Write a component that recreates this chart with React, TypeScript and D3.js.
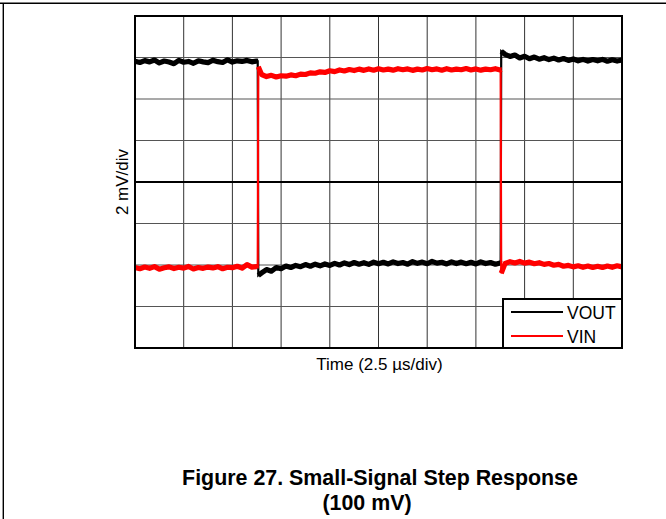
import React from "react";
import * as d3 from "d3";

// Sample times (µs), shared by both traces
const timeUs = [
  0, 0.25, 0.5, 0.75, 1, 1.25, 1.5, 1.75, 2, 2.25, 2.5, 2.75, 3, 3.25, 3.5, 3.75, 4, 4.25, 4.5, 4.75, 5, 5.25, 5.5, 5.75, 6, 6.25,
  6.3, 6.33,
  6.5, 6.75, 7, 7.25, 7.5, 7.75, 8, 8.25, 8.5, 8.75, 9, 9.25, 9.5, 9.75, 10, 10.25, 10.5, 10.75, 11, 11.25, 11.5, 11.75,
  12, 12.25, 12.5, 12.75, 13, 13.25, 13.5, 13.75, 14, 14.25, 14.5, 14.75, 15, 15.25, 15.5, 15.75, 16, 16.25, 16.5, 16.75,
  17, 17.25, 17.5, 17.75, 18, 18.25, 18.5, 18.75,
  18.77, 18.8,
  19, 19.25, 19.5, 19.75, 20, 20.25, 20.5, 20.75, 21, 21.25, 21.5, 21.75, 22, 22.25, 22.5, 22.75, 23, 23.25, 23.5, 23.75,
  24, 24.25, 24.5, 24.75, 25,
];

// VOUT trace (mV, scope offset)
const voutMv = [
  5.82, 5.76, 5.85, 5.79, 5.88, 5.74, 5.83, 5.78, 5.7, 5.86, 5.77, 5.81, 5.72, 5.84, 5.79, 5.75, 5.87, 5.8, 5.76, 5.89, 5.78, 5.84, 5.81, 5.86, 5.79, 5.83,
  5.82, -4.5,
  -4.38, -4.22, -4.3, -4.12, -4.18, -4.05, -4.12, -4.02, -4.08, -3.98, -4.06, -3.96, -4.04, -3.95, -4.02, -3.92, -4.0, -3.9, -3.98, -3.88,
  -3.96, -3.89, -3.97, -3.86, -3.94, -3.87, -3.95, -3.85, -3.93, -3.88, -3.96, -3.84, -3.92, -3.86, -3.94, -3.83, -3.91, -3.87, -3.95, -3.85,
  -3.93, -3.86, -3.94, -3.87, -3.95, -3.85, -3.93, -3.88, -3.96, -3.9,
  -3.92, 6.3,
  6.15, 6.05, 6.12, 5.98, 6.06, 5.94, 6.02, 5.92, 5.99, 5.9, 5.97, 5.88, 5.95, 5.86, 5.93, 5.84, 5.91, 5.83, 5.9, 5.84,
  5.91, 5.82, 5.89, 5.83, 5.88,
];

// VIN trace (mV, scope offset)
const vinMv = [
  -4.12, -4.18, -4.1, -4.16, -4.08, -4.2, -4.13, -4.09, -4.17, -4.11, -4.15, -4.07, -4.19, -4.12, -4.16, -4.1, -4.14, -4.08, -4.18, -4.11, -4.13, -4.06, -4.15, -3.98, -4.1, -4.08,
  -4.1, 5.55,
  5.18, 5.08, 5.14, 5.06, 5.12, 5.1, 5.16, 5.12, 5.2, 5.18, 5.26, 5.24, 5.31, 5.28, 5.36, 5.32, 5.4, 5.35, 5.42, 5.37,
  5.44, 5.38, 5.45, 5.39, 5.46, 5.4, 5.44, 5.39, 5.46, 5.41, 5.45, 5.38, 5.44, 5.4, 5.47, 5.41, 5.45, 5.39, 5.46, 5.4,
  5.44, 5.41, 5.47, 5.4, 5.45, 5.39, 5.44, 5.41, 5.46, 5.4,
  5.42, -4.4,
  -3.92, -3.84, -3.9, -3.83, -3.91, -3.86, -3.94, -3.89, -3.97, -3.93, -4.01, -3.97, -4.06, -4.02, -4.09, -4.04, -4.11, -4.05, -4.12, -4.06,
  -4.12, -4.05, -4.11, -4.04, -4.09,
];

// Scope divisions
const timeDivs = [0, 2.5, 5, 7.5, 10, 12.5, 15, 17.5, 20, 22.5, 25];
const mvDivs = [-8, -6, -4, -2, 0, 2, 4, 6, 8];

const seriesNames = ["VOUT", "VIN"];
const seriesColors = ["#000000", "#ff0000"];

const titleLines = ["Figure 27. Small-Signal Step Response", "(100 mV)"];
const xLabel = "Time (2.5 µs/div)";
const yLabel = "2 mV/div";

export default function App() {
  const W = 666;
  const H = 519;
  const left = 135;
  const right = 622;
  const top = 16;
  const bottom = 348;

  const x = d3.scaleLinear().domain([0, 25]).range([left, right]);
  const y = d3.scaleLinear().domain([-8, 8]).range([bottom, top]);

  const lineGen = d3
    .line<[number, number]>()
    .x((d) => x(d[0]))
    .y((d) => y(d[1]));

  const fullPath = (vals: number[]) =>
    lineGen(vals.map((v, i) => [timeUs[i], v] as [number, number])) || "";

  // flat (noisy) segments between step edges, drawn with a thicker pen
  const flatPaths = (vals: number[]) => {
    const segs: [number, number][][] = [];
    let cur: [number, number][] = [];
    vals.forEach((v, i) => {
      if (i > 0 && Math.abs(v - vals[i - 1]) > 3) {
        segs.push(cur);
        cur = [];
      }
      cur.push([timeUs[i], v]);
    });
    segs.push(cur);
    return segs.map((s) => lineGen(s) || "");
  };

  const font = "'Liberation Sans', Arial, Helvetica, sans-serif";
  const cx = (left + right) / 2 + 1;

  const series = [voutMv, vinMv];

  return (
    <svg
      width={W}
      height={H}
      style={{ position: "absolute", left: 0, top: 0, background: "#fff" }}
      fontFamily={font}
    >
      <rect x={0} y={0} width={W} height={H} fill="#fff" />
      {/* page frame */}
      <line x1={0} y1={3.3} x2={W} y2={3.3} stroke="#000" strokeWidth={1.4} />
      <line x1={3.3} y1={3} x2={3.3} y2={H} stroke="#000" strokeWidth={1.4} />

      {/* grid */}
      {timeDivs.slice(1, -1).map((t) => (
        <line key={"vx" + t} x1={x(t)} x2={x(t)} y1={top} y2={bottom} stroke="#333" strokeWidth={1} />
      ))}
      {mvDivs.slice(1, -1).map((m) => (
        <line
          key={"hy" + m}
          x1={left}
          x2={right}
          y1={y(m)}
          y2={y(m)}
          stroke={m === 0 ? "#000" : "#555"}
          strokeWidth={m === 0 ? 2 : 1.2}
        />
      ))}

      {/* traces */}
      {series.map((vals, si) => (
        <g key={"s" + si}>
          <path d={fullPath(vals)} fill="none" stroke={seriesColors[si]} strokeWidth={2.2} />
          {flatPaths(vals).map((d, k) => (
            <path
              key={k}
              d={d}
              fill="none"
              stroke={seriesColors[si]}
              strokeWidth={5.2}
              strokeLinejoin="round"
            />
          ))}
        </g>
      ))}

      {/* plot border */}
      <rect x={left} y={top} width={right - left} height={bottom - top} fill="none" stroke="#000" strokeWidth={2} />

      {/* legend */}
      <rect x={503} y={299} width={right - 503} height={bottom - 299} fill="#fff" stroke="#000" strokeWidth={2} />
      {seriesNames.map((n, i) => (
        <g key={n}>
          <line x1={511} x2={563} y1={312 + i * 24} y2={312 + i * 24} stroke={seriesColors[i]} strokeWidth={2} />
          <text x={567} y={318.5 + i * 24} fontSize={17.5} fill="#000">
            {n}
          </text>
        </g>
      ))}

      {/* axis labels */}
      <text x={cx} y={370} fontSize={17} textAnchor="middle" fill="#000">
        {xLabel}
      </text>
      <text
        transform={`translate(128, ${(top + bottom) / 2}) rotate(-90)`}
        fontSize={17}
        textAnchor="middle"
        fill="#000"
      >
        {yLabel}
      </text>

      {/* title */}
      <text x={380} y={485} fontSize={21.4} fontWeight="bold" textAnchor="middle" fill="#000">
        {titleLines[0]}
      </text>
      <text x={367} y={510} fontSize={21.4} fontWeight="bold" textAnchor="middle" fill="#000">
        {titleLines[1]}
      </text>
    </svg>
  );
}
